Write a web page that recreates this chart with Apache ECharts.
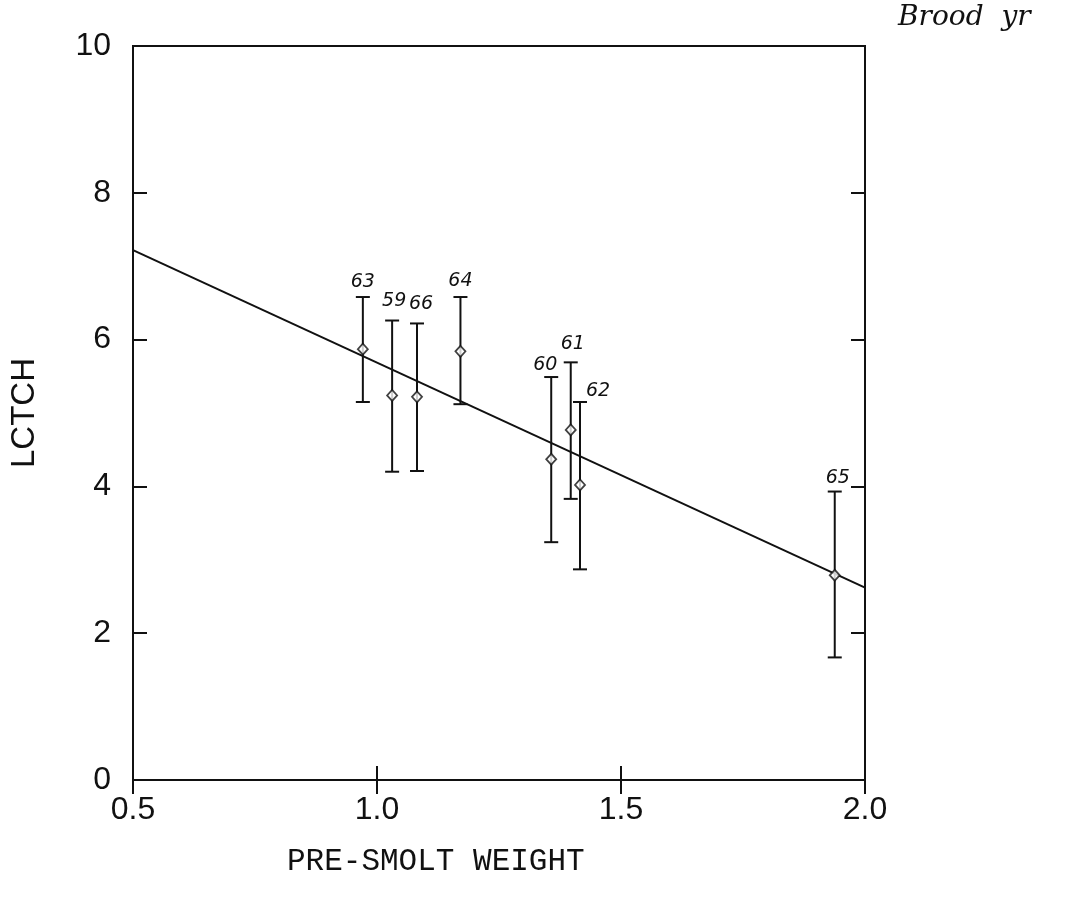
<!DOCTYPE html>
<html>
<head>
<meta charset="utf-8">
<script src="https://cdn.jsdelivr.net/npm/echarts@6/dist/echarts.min.js"></script>
<style>
    html, body { margin: 0; padding: 0; background: #fff; }
    #chart { width: 1075px; height: 898px; }
</style>
</head>
<body>
<div id="chart"></div>
<script>
// Brood years and values
const broodYears = ['63', '59', '66', '64', '60', '61', '62', '65'];
const weights    = [0.971, 1.031, 1.082, 1.171, 1.357, 1.397, 1.416, 1.938];
const lctchMean  = [5.87, 5.24, 5.22, 5.84, 4.37, 4.77, 4.02, 2.79];
const lctchHigh  = [6.58, 6.26, 6.22, 6.58, 5.49, 5.69, 5.15, 3.93];
const lctchLow   = [5.15, 4.20, 4.21, 5.12, 3.24, 3.83, 2.87, 1.67];

// Fitted regression line end points
const fitLine = [[0.5, 7.22], [2.0, 2.62]];

// label placement (px offset from the top of each bar)
const labelOffsets = [[0, -15], [2, -19], [4, -19], [0, -16], [-6, -12], [2, -18], [18, -11], [3, -13]];

const chart = echarts.init(document.getElementById('chart'));

const tickFont = {
    color: '#111',
    fontSize: 32,
    fontFamily: 'Liberation Sans, Arial, sans-serif',
    fontWeight: 'lighter'
};

const tickStyle = { show: true, inside: true, length: 14, lineStyle: { color: '#111', width: 2 } };

function barItem(params, api) {
    const i = params.dataIndex;
    const top = api.coord([api.value(0), api.value(2)]);
    const bot = api.coord([api.value(0), api.value(1)]);
    const cap = 7;
    const style = { stroke: '#111', lineWidth: 2 };
    const off = labelOffsets[i];
    return {
        type: 'group',
        children: [
            { type: 'line', shape: { x1: top[0], y1: top[1], x2: bot[0], y2: bot[1] }, style },
            { type: 'line', shape: { x1: top[0] - cap, y1: top[1], x2: top[0] + cap, y2: top[1] }, style },
            { type: 'line', shape: { x1: bot[0] - cap, y1: bot[1], x2: bot[0] + cap, y2: bot[1] }, style },
            {
                type: 'text',
                style: {
                    x: top[0] + off[0],
                    y: top[1] + off[1],
                    text: broodYears[i],
                    fill: '#111',
                    fontSize: 19,
                    fontStyle: 'italic',
                    fontFamily: 'DejaVu Sans, sans-serif',
                    fontWeight: 'lighter',
                    align: 'center',
                    verticalAlign: 'middle'
                }
            }
        ]
    };
}

const option = {
    backgroundColor: '#fff',
    animation: false,
    grid: {
        left: 133,
        right: 210,
        top: 46,
        bottom: 118,
        show: true,
        borderColor: '#111',
        borderWidth: 2
    },
    xAxis: [
        {
            type: 'value',
            min: 0.5,
            max: 2.0,
            interval: 0.5,
            axisLine: { show: false },
            axisTick: tickStyle,
            axisLabel: {
                ...tickFont,
                margin: 14,
                formatter: v => v.toFixed(1)
            },
            splitLine: { show: false }
        },
        {
            type: 'value',
            position: 'top',
            min: 0.5,
            max: 2.0,
            interval: 0.5,
            axisLine: { show: false },
            axisTick: tickStyle,
            axisLabel: { show: false },
            splitLine: { show: false }
        }
    ],
    yAxis: [
        {
            type: 'value',
            min: 0,
            max: 10,
            interval: 2,
            name: 'LCTCH',
            nameLocation: 'middle',
            nameGap: 92,
            nameTextStyle: {
                color: '#111',
                fontSize: 33,
                fontFamily: 'Liberation Sans, Arial, sans-serif',
                fontWeight: 'lighter'
            },
            axisLine: { show: false },
            axisTick: tickStyle,
            axisLabel: { ...tickFont, margin: 22 },
            splitLine: { show: false }
        },
        {
            type: 'value',
            position: 'right',
            min: 0,
            max: 10,
            interval: 2,
            axisLine: { show: false },
            axisTick: tickStyle,
            axisLabel: { show: false },
            splitLine: { show: false }
        }
    ],
    graphic: [
        {
            type: 'text',
            left: 287,
            top: 846,
            style: {
                text: 'PRE-SMOLT WEIGHT',
                fill: '#111',
                fontSize: 31,
                fontFamily: 'Liberation Mono, Courier New, monospace'
            }
        },
        {
            type: 'text',
            left: 898,
            top: 4,
            style: {
                text: 'Brood  yr',
                fill: '#111',
                fontSize: 28,
                fontStyle: 'italic',
                fontFamily: 'DejaVu Serif, serif'
            }
        }
    ],
    series: [
        {
            name: 'fit',
            type: 'line',
            data: fitLine,
            symbol: 'none',
            lineStyle: { color: '#111', width: 2 },
            z: 2
        },
        {
            name: 'range',
            type: 'custom',
            renderItem: barItem,
            data: weights.map((w, i) => [w, lctchLow[i], lctchHigh[i]]),
            encode: { x: 0, y: [1, 2] },
            z: 3
        },
        {
            name: 'mean',
            type: 'scatter',
            data: weights.map((w, i) => [w, lctchMean[i]]),
            symbol: 'diamond',
            symbolSize: [10, 11],
            itemStyle: { color: '#fff', borderColor: '#111', borderWidth: 1.8 },
            z: 4
        }
    ]
};

chart.setOption(option);
</script>
</body>
</html>
